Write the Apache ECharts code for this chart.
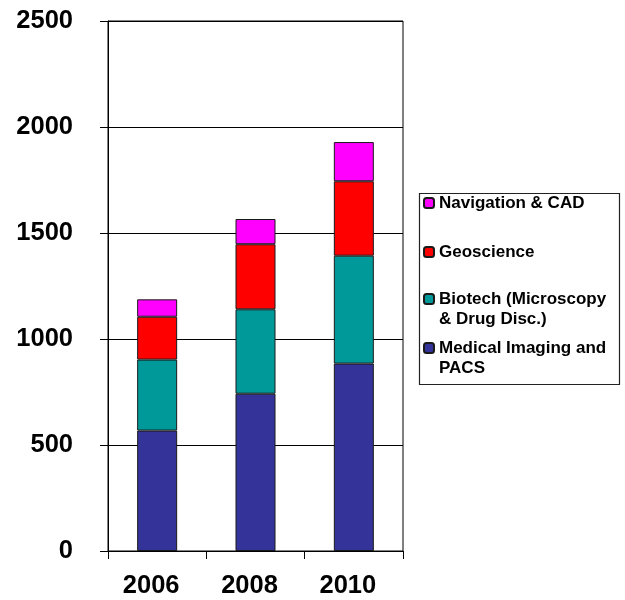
<!DOCTYPE html>
<html>
<head>
<meta charset="utf-8">
<script src="https://cdn.jsdelivr.net/npm/echarts@6/dist/echarts.min.js"></script>
<style>
html,body{margin:0;padding:0;background:#fff;}
#chart{width:625px;height:600px;}
</style>
</head>
<body>
<div id="chart"></div>
<script>
const categories = ['2006', '2008', '2010'];
const medicalImaging = [568, 742, 884];
const biotech = [335, 398, 509];
const geoscience = [202, 307, 351];
const navigation = [82, 119, 185];
const yTicks = { min: 0, max: 2500, interval: 500 };

const FONT = '"Liberation Sans", Arial, sans-serif';
const chart = echarts.init(document.getElementById('chart'));

const names = {
  med: 'Medical Imaging and PACS',
  bio: 'Biotech (Microscopy & Drug Disc.)',
  geo: 'Geoscience',
  nav: 'Navigation & CAD'
};

function legendFor(name, top, formatterText) {
  return {
    data: [name],
    left: 423,
    top: top,
    orient: 'vertical',
    padding: 0,
    itemWidth: 10,
    itemHeight: 10,
    itemGap: 0,
    selectedMode: false,
    formatter: function () { return formatterText; },
    textStyle: {
      fontFamily: FONT,
      fontWeight: 'bold',
      fontSize: 17,
      lineHeight: 20,
      color: '#000'
    }
  };
}

const borderStyle = { borderColor: '#1a1a1a', borderWidth: 1 };

chart.setOption({
  animation: false,
  backgroundColor: '#fff',
  grid: {
    left: 108, right: 222, top: 21, bottom: 49,
    show: true, borderColor: '#000', borderWidth: 1, backgroundColor: 'transparent'
  },
  legend: [
    legendFor(names.nav, 193, 'Navigation & CAD'),
    legendFor(names.geo, 242, 'Geoscience'),
    legendFor(names.bio, 269, '\nBiotech (Microscopy\n& Drug Disc.)'),
    legendFor(names.med, 318, '\nMedical Imaging and\nPACS')
  ],
  graphic: [{
    type: 'rect',
    left: 417, top: 191,
    shape: { width: 200, height: 191 },
    style: { fill: 'none', stroke: '#222', lineWidth: 1.2 },
    silent: true
  }],
  xAxis: {
    type: 'category',
    data: categories,
    axisLine: { show: true, lineStyle: { color: '#000', width: 1 } },
    axisTick: { show: true, length: 8, lineStyle: { color: '#000' } },
    axisLabel: {
      margin: 22,
      padding: [0, 12, 0, 0],
      fontFamily: FONT, fontWeight: 'bold', fontSize: 25.5, color: '#000'
    },
    splitLine: { show: false }
  },
  yAxis: {
    type: 'value',
    min: yTicks.min, max: yTicks.max, interval: yTicks.interval,
    axisLine: { show: true, lineStyle: { color: '#000', width: 1 } },
    axisTick: { show: true, length: 8, lineStyle: { color: '#000' } },
    axisLabel: {
      margin: 35,
      formatter: function (v) { return String(v); },
      fontFamily: FONT, fontWeight: 'bold', fontSize: 25.5, color: '#000'
    },
    splitLine: { show: true, lineStyle: { color: '#000', width: 1 } }
  },
  series: [
    { name: names.med, type: 'bar', stack: 'total', data: medicalImaging, barWidth: 40,
      itemStyle: Object.assign({ color: '#333399' }, borderStyle) },
    { name: names.bio, type: 'bar', stack: 'total', data: biotech, barWidth: 40,
      itemStyle: Object.assign({ color: '#009999' }, borderStyle) },
    { name: names.geo, type: 'bar', stack: 'total', data: geoscience, barWidth: 40,
      itemStyle: Object.assign({ color: '#ff0000' }, borderStyle) },
    { name: names.nav, type: 'bar', stack: 'total', data: navigation, barWidth: 40,
      itemStyle: Object.assign({ color: '#ff00ff' }, borderStyle) }
  ]
});
</script>
</body>
</html>
